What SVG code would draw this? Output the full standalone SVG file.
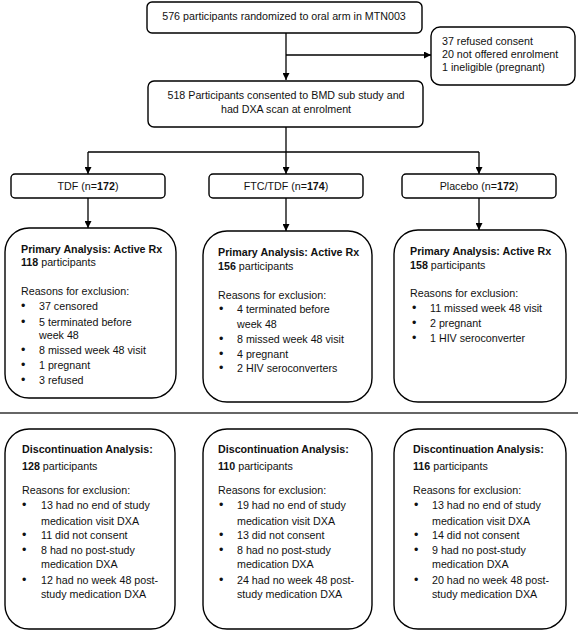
<svg xmlns="http://www.w3.org/2000/svg" width="578" height="631" viewBox="0 0 578 631">
<defs>
<style>
text{font-family:"Liberation Sans",Arial,sans-serif;font-size:10.7px;fill:#111}
.b{font-weight:bold}
.u{font-size:12.5px}
.box{fill:#fff;stroke:#000;stroke-width:1.4}
.ln{fill:none;stroke:#000;stroke-width:1.3}
.m{text-anchor:middle}
</style>
<marker id="ah" viewBox="0 0 10 10" refX="10" refY="5" markerWidth="7" markerHeight="7" markerUnits="userSpaceOnUse" orient="auto">
<path d="M0,0 L10,5 L0,10 z" fill="#000"/>
</marker>
</defs>
<rect width="578" height="631" fill="#fff"/>

<g id="connectors">
<path class="ln" d="M286,33 V80" marker-end="url(#ah)"/>
<path class="ln" d="M286,55 H431" marker-end="url(#ah)"/>
<path class="ln" d="M286,127 V152"/>
<path class="ln" d="M88,152 H479"/>
<path class="ln" d="M88,152 V174" marker-end="url(#ah)"/>
<path class="ln" d="M286,152 V174" marker-end="url(#ah)"/>
<path class="ln" d="M479,152 V174" marker-end="url(#ah)"/>
<path class="ln" d="M88,198 V228" marker-end="url(#ah)"/>
<path class="ln" d="M286,198 V231" marker-end="url(#ah)"/>
<path class="ln" d="M479,198 V230" marker-end="url(#ah)"/>
<path d="M0,413 H578" fill="none" stroke="#333" stroke-width="1.6"/>
</g>

<g id="randomized">
<rect class="box" x="147" y="2" width="275" height="31" rx="5"/>
<text x="284" y="20" class="m">576 participants randomized to oral arm in MTN003</text>
</g>

<g id="excluded">
<rect class="box" x="431" y="27" width="144" height="58" rx="9"/>
<text x="442" y="45">37 refused consent</text>
<text x="442" y="58">20 not offered enrolment</text>
<text x="442" y="71">1 ineligible (pregnant)</text>
</g>

<g id="consented">
<rect class="box" x="148" y="81" width="275" height="46" rx="6"/>
<text x="286" y="99" class="m">518 Participants consented to BMD sub study and</text>
<text x="286" y="113" class="m">had DXA scan at enrolment</text>
</g>

<g id="tdf">
<rect class="box" x="11" y="174" width="154" height="24" rx="4"/>
<text x="88" y="190" class="m">TDF (n=<tspan class="b">172</tspan>)</text>
</g>
<g id="ftc">
<rect class="box" x="209" y="174" width="154" height="24" rx="4"/>
<text x="286" y="190" class="m">FTC/TDF (n=<tspan class="b">174</tspan>)</text>
</g>
<g id="placebo">
<rect class="box" x="402" y="174" width="154" height="24" rx="4"/>
<text x="479" y="190" class="m">Placebo (n=<tspan class="b">172</tspan>)</text>
</g>

<g id="tdf-primary">
<rect class="box" x="5" y="228" width="171" height="170" rx="24"/>
<text x="21" y="253" class="b">Primary Analysis: Active Rx</text>
<text x="21" y="266"><tspan class="b">118</tspan> participants</text>
<text x="21" y="295">Reasons for exclusion:</text>
<text x="21" y="310" class="u">•</text><text x="39" y="310">37 censored</text>
<text x="21" y="326" class="u">•</text><text x="39" y="326">5 terminated before</text>
<text x="39" y="339">week 48</text>
<text x="21" y="354" class="u">•</text><text x="39" y="354">8 missed week 48 visit</text>
<text x="21" y="369" class="u">•</text><text x="39" y="369">1 pregnant</text>
<text x="21" y="384" class="u">•</text><text x="39" y="384">3 refused</text>
</g>

<g id="ftc-primary">
<rect class="box" x="203" y="231" width="169" height="171" rx="24"/>
<text x="218" y="256" class="b">Primary Analysis: Active Rx</text>
<text x="218" y="270"><tspan class="b">156</tspan> participants</text>
<text x="218" y="299">Reasons for exclusion:</text>
<text x="219" y="313" class="u">•</text><text x="237" y="313">4 terminated before</text>
<text x="237" y="328">week 48</text>
<text x="219" y="343" class="u">•</text><text x="237" y="343">8 missed week 48 visit</text>
<text x="219" y="358" class="u">•</text><text x="237" y="358">4 pregnant</text>
<text x="219" y="372" class="u">•</text><text x="237" y="372">2 HIV seroconverters</text>
</g>

<g id="placebo-primary">
<rect class="box" x="394" y="230" width="172" height="172" rx="24"/>
<text x="410" y="255" class="b">Primary Analysis: Active Rx</text>
<text x="410" y="269"><tspan class="b">158</tspan> participants</text>
<text x="410" y="297">Reasons for exclusion:</text>
<text x="412" y="312" class="u">•</text><text x="430" y="312">11 missed week 48 visit</text>
<text x="412" y="327" class="u">•</text><text x="430" y="327">2 pregnant</text>
<text x="412" y="342" class="u">•</text><text x="430" y="342">1 HIV seroconverter</text>
</g>

<g id="tdf-disc">
<rect class="box" x="5" y="429" width="170" height="200" rx="24"/>
<text x="22" y="453" class="b">Discontinuation Analysis:</text>
<text x="22" y="470"><tspan class="b">128</tspan> participants</text>
<text x="22" y="494">Reasons for exclusion:</text>
<text x="22" y="509" class="u">•</text><text x="41" y="509">13 had no end of study</text>
<text x="41" y="525">medication visit DXA</text>
<text x="22" y="539" class="u">•</text><text x="41" y="539">11 did not consent</text>
<text x="22" y="554" class="u">•</text><text x="41" y="554">8 had no post-study</text>
<text x="41" y="568">medication DXA</text>
<text x="22" y="584" class="u">•</text><text x="41" y="584">12 had no week 48 post-</text>
<text x="41" y="598">study medication DXA</text>
</g>

<g id="ftc-disc">
<rect class="box" x="203" y="429" width="169" height="200" rx="24"/>
<text x="218" y="453" class="b">Discontinuation Analysis:</text>
<text x="218" y="470"><tspan class="b">110</tspan> participants</text>
<text x="218" y="494">Reasons for exclusion:</text>
<text x="219" y="509" class="u">•</text><text x="237" y="509">19 had no end of study</text>
<text x="237" y="525">medication visit DXA</text>
<text x="219" y="539" class="u">•</text><text x="237" y="539">13 did not consent</text>
<text x="219" y="554" class="u">•</text><text x="237" y="554">8 had no post-study</text>
<text x="237" y="568">medication DXA</text>
<text x="219" y="584" class="u">•</text><text x="237" y="584">24 had no week 48 post-</text>
<text x="237" y="598">study medication DXA</text>
</g>

<g id="placebo-disc">
<rect class="box" x="394" y="429" width="172" height="200" rx="24"/>
<text x="413" y="453" class="b">Discontinuation Analysis:</text>
<text x="413" y="470"><tspan class="b">116</tspan> participants</text>
<text x="413" y="494">Reasons for exclusion:</text>
<text x="414" y="509" class="u">•</text><text x="432" y="509">13 had no end of study</text>
<text x="432" y="525">medication visit DXA</text>
<text x="414" y="539" class="u">•</text><text x="432" y="539">14 did not consent</text>
<text x="414" y="554" class="u">•</text><text x="432" y="554">9 had no post-study</text>
<text x="432" y="568">medication DXA</text>
<text x="414" y="584" class="u">•</text><text x="432" y="584">20 had no week 48 post-</text>
<text x="432" y="598">study medication DXA</text>
</g>
</svg>
